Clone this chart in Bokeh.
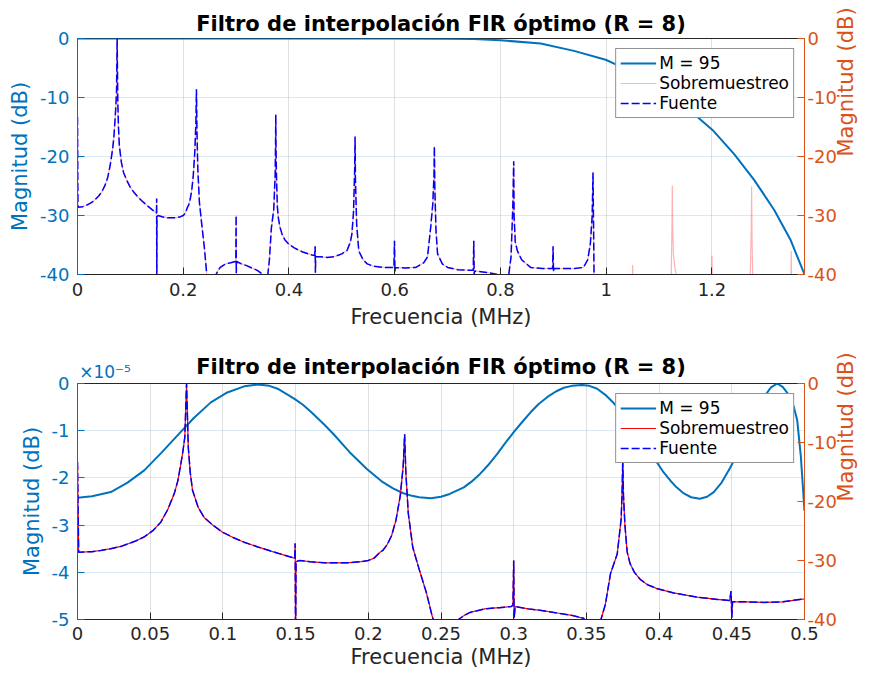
import math
from bokeh.plotting import figure
from bokeh.models import Range1d, LinearAxis, FixedTicker, CustomJSTickFormatter
from bokeh.layouts import column
from bokeh.embed import file_html
from bokeh.resources import INLINE

# ---------------- texts ----------------
TITLE = "Filtro de interpolación FIR óptimo (R = 8)"
X_LABEL = "Frecuencia (MHz)"
Y_LABEL = "Magnitud (dB)"
LEGEND_FILTER = "M = 95"
LEGEND_OVERSAMPLED = "Sobremuestreo"
LEGEND_SOURCE = "Fuente"
EXPONENT_TEXT = "×10⁻⁵"

# ---------------- ticks ----------------
top_x_ticks = [0, 0.2, 0.4, 0.6, 0.8, 1.0, 1.2]
bottom_x_ticks = [0, 0.05, 0.1, 0.15, 0.2, 0.25, 0.3, 0.35, 0.4, 0.45, 0.5]
db_ticks = [-40, -30, -20, -10, 0]
ripple_ticks = [-5e-5, -4e-5, -3e-5, -2e-5, -1e-5, 0]

# ---------------- filter response (M = 95), top panel, dB ----------------
filter_freq = [0.0, 0.5, 0.6, 0.7, 0.75, 0.8, 0.876, 0.939, 0.999, 1.016,
               1.06, 1.10, 1.135, 1.166, 1.201, 1.242, 1.280, 1.318, 1.349, 1.375]
filter_db = [0.0, 0.0, -0.01, -0.03, -0.1, -0.3, -0.85, -2.1, -3.6, -4.3,
             -6.0, -8.0, -10.3, -12.8, -15.5, -19.6, -24.0, -29.1, -34.2, -40.0]

# ---------------- filter passband ripple, bottom panel, dB ----------------
ripple_freq = [0.0000, 0.0100, 0.0229, 0.0344, 0.0459, 0.0573, 0.0688, 0.0800, 0.0917, 0.1030,
               0.1146, 0.1240, 0.1320, 0.1376, 0.1490, 0.1550, 0.1605, 0.1700, 0.1760, 0.1870,
               0.1990, 0.2100, 0.2170, 0.2237, 0.2300, 0.2350, 0.2430, 0.2500, 0.2560, 0.2657,
               0.2710, 0.2770, 0.2830, 0.2887, 0.2940, 0.3000, 0.3060, 0.3116, 0.3170, 0.3230,
               0.3290, 0.3345, 0.3400, 0.3470, 0.3520, 0.3574, 0.3630, 0.3689, 0.3740, 0.3780,
               0.3830, 0.3880, 0.3930, 0.3987, 0.4030, 0.4078, 0.4120, 0.4170, 0.4220, 0.4280,
               0.4330, 0.4376, 0.4430, 0.4490, 0.4540, 0.4580, 0.4620, 0.4660, 0.4700, 0.4732,
               0.4770, 0.4812, 0.4850, 0.4892, 0.4925, 0.4950, 0.4975, 0.5000]
ripple_db = [-2.42e-5, -2.39e-5, -2.30e-5, -2.10e-5, -1.84e-5, -1.48e-5, -1.10e-5, -0.73e-5, -0.40e-5, -0.19e-5,
             -0.06e-5, -0.02e-5, -0.05e-5, -0.11e-5, -0.32e-5, -0.45e-5, -0.60e-5, -0.88e-5, -1.07e-5, -1.45e-5,
             -1.81e-5, -2.09e-5, -2.22e-5, -2.32e-5, -2.38e-5, -2.41e-5, -2.43e-5, -2.40e-5, -2.34e-5, -2.20e-5,
             -2.08e-5, -1.91e-5, -1.71e-5, -1.49e-5, -1.27e-5, -1.03e-5, -0.81e-5, -0.61e-5, -0.44e-5, -0.29e-5,
             -0.17e-5, -0.09e-5, -0.05e-5, -0.03e-5, -0.05e-5, -0.11e-5, -0.24e-5, -0.42e-5, -0.60e-5, -0.78e-5,
             -1.00e-5, -1.22e-5, -1.45e-5, -1.68e-5, -1.88e-5, -2.06e-5, -2.20e-5, -2.33e-5, -2.41e-5, -2.44e-5,
             -2.40e-5, -2.30e-5, -2.10e-5, -1.78e-5, -1.48e-5, -1.24e-5, -0.98e-5, -0.72e-5, -0.44e-5, -0.24e-5,
             -0.08e-5, 0.0, -0.07e-5, -0.24e-5, -0.48e-5, -0.78e-5, -1.55e-5, -2.70e-5]

# ---------------- source spectrum (Fuente), dB ----------------
source_freq = [0.0000, 0.0008, 0.0100, 0.0160, 0.0229, 0.0300, 0.0400, 0.0459, 0.0520, 0.0573,
               0.0620, 0.0665, 0.0690, 0.0711, 0.0725, 0.0738, 0.0750, 0.0762, 0.0775, 0.0791,
               0.0830, 0.0871, 0.0930, 0.0997, 0.1070, 0.1146, 0.1240, 0.1330, 0.1410, 0.1479,
               0.1494, 0.1497, 0.1500, 0.1503, 0.1525, 0.1600, 0.1700, 0.1850, 0.1950, 0.2000,
               0.2040, 0.2080, 0.2100, 0.2130, 0.2160, 0.2190, 0.2220, 0.2240, 0.2250, 0.2258,
               0.2275, 0.2306, 0.2350, 0.2400, 0.2440, 0.2500, 0.2570, 0.2620, 0.2660, 0.2700,
               0.2750, 0.2800, 0.2900, 0.2985, 0.2995, 0.3000, 0.3003, 0.3010, 0.3100, 0.3200,
               0.3300, 0.3400, 0.3480, 0.3520, 0.3560, 0.3600, 0.3630, 0.3666, 0.3712, 0.3739,
               0.3746, 0.3750, 0.3755, 0.3765, 0.3780, 0.3800, 0.3830, 0.3870, 0.3920, 0.3990,
               0.4100, 0.4260, 0.4400, 0.4485, 0.4495, 0.4500, 0.4505, 0.4600, 0.4720, 0.4850,
               0.5000, 0.5100, 0.5160, 0.5190, 0.5220, 0.5243, 0.5250, 0.5257, 0.5280, 0.5320,
               0.5400, 0.5480, 0.5600, 0.5800, 0.5985, 0.5995, 0.6003, 0.6010, 0.6200, 0.6400,
               0.6550, 0.6620, 0.6680, 0.6720, 0.6743, 0.6750, 0.6757, 0.6780, 0.6810, 0.6900,
               0.7000, 0.7200, 0.7485, 0.7495, 0.7503, 0.7510, 0.7700, 0.7900, 0.8050, 0.8150,
               0.8200, 0.8235, 0.8250, 0.8257, 0.8280, 0.8320, 0.8400, 0.8570, 0.8800, 0.8985,
               0.8995, 0.9003, 0.9010, 0.9200, 0.9400, 0.9570, 0.9650, 0.9700, 0.9735, 0.9750,
               0.9770, 0.9800]
source_db = [-13.3, -28.6, -28.5, -28.3, -28.0, -27.6, -26.7, -26.0, -24.9, -23.5,
             -21.4, -18.7, -16.5, -13.6, -11.5, -9.1, 0.0, -10.8, -15.0, -18.1,
             -21.0, -22.7, -24.0, -25.2, -26.1, -26.9, -27.7, -28.4, -29.0, -29.5,
             -29.6, -27.1, -46.0, -30.2, -30.0, -30.2, -30.4, -30.4, -30.2, -30.0,
             -29.6, -28.6, -28.3, -27.3, -25.8, -23.2, -19.0, -14.0, -8.6, -15.0,
             -22.0, -27.8, -31.5, -35.5, -39.5, -44.0, -43.0, -40.0, -39.3, -38.8,
             -38.5, -38.2, -38.0, -37.8, -37.5, -30.0, -39.8, -37.8, -38.2, -38.5,
             -38.9, -39.3, -39.8, -41.0, -41.0, -40.0, -37.5, -32.2, -28.9, -23.0,
             -18.0, -12.9, -19.0, -24.0, -28.5, -30.5, -32.0, -33.2, -34.1, -34.8,
             -35.5, -36.2, -36.6, -36.8, -35.2, -39.7, -37.0, -37.0, -37.1, -37.0,
             -36.5, -35.9, -34.5, -33.1, -29.5, -22.0, -16.6, -24.0, -31.5, -36.0,
             -37.5, -38.2, -38.6, -38.8, -38.8, -34.3, -39.5, -38.8, -38.9, -38.8,
             -38.0, -37.0, -32.0, -28.0, -23.0, -18.3, -25.0, -32.5, -36.5, -38.2,
             -38.8, -39.2, -39.3, -34.3, -40.0, -39.4, -39.6, -39.9, -40.3, -40.5,
             -37.0, -28.0, -20.8, -30.0, -34.5, -36.0, -37.5, -38.8, -39.0, -39.0,
             -35.2, -39.6, -39.0, -39.0, -39.0, -38.8, -37.5, -34.8, -30.0, -22.7,
             -40.5, -46.0]

# ---------------- images in the oversampled spectrum (Sobremuestreo), dB ----------------
image_freq = [1.0480, 1.0495, 1.0500, 1.0505, 1.0520,
              1.1220, 1.1243, 1.1250, 1.1257, 1.1270, 1.1300, 1.1350, 1.1400,
              1.1980, 1.1995, 1.2000, 1.2005, 1.2020,
              1.2700, 1.2730, 1.2743, 1.2750, 1.2757, 1.2780,
              1.3470, 1.3495, 1.3500, 1.3505, 1.3520, 1.3750]
image_db = [-46.0, -41.0, -38.4, -41.0, -46.0,
            -46.0, -32.0, -24.9, -32.0, -36.5, -39.0, -41.0, -46.0,
            -46.0, -40.0, -36.8, -40.0, -46.0,
            -46.0, -38.0, -32.0, -25.1, -33.0, -46.0,
            -46.0, -40.0, -36.0, -40.0, -46.0, -46.0]

oversampled_freq = source_freq + image_freq
oversampled_db = source_db + image_db

# ---------------- styling ----------------
FONT = "DejaVu Sans"
BLUE_AX = "#0072BD"
ORANGE_AX = "#D95319"
DARK = "#262626"

x_fmt_code = "return Number(tick.toFixed(4)).toString();"


def style_axis(ax, color, standoff, label_standoff):
    ax.axis_line_color = color
    ax.axis_line_width = 1
    ax.major_tick_line_color = color
    ax.major_tick_in = 7
    ax.major_tick_out = 0
    ax.minor_tick_line_color = None
    ax.major_label_text_color = color
    ax.major_label_text_font = FONT
    ax.major_label_text_font_size = "18px"
    ax.major_label_standoff = standoff
    ax.axis_label_text_color = color
    ax.axis_label_text_font = FONT
    ax.axis_label_text_font_size = "21px"
    ax.axis_label_text_font_style = "normal"
    ax.axis_label_standoff = label_standoff


def build(height, border_top, border_bottom, x_end, x_ticks, left_range, left_ticks,
          left_formatter, filt_x, filt_y, over_color, over_alpha, over_width,
          title_standoff, xtick_standoff, xlabel_standoff):
    p = figure(width=872, height=height, output_backend="svg", toolbar_location=None,
               x_range=Range1d(0, x_end), y_range=left_range,
               min_border_left=77, min_border_right=68,
               min_border_top=border_top, min_border_bottom=border_bottom)
    p.extra_y_ranges = {"right": Range1d(-40, 0)}
    p.background_fill_color = "white"
    p.border_fill_color = "white"
    p.outline_line_color = DARK
    p.outline_line_width = 1

    p.title.text = TITLE
    p.title.align = "center"
    p.title.text_font = FONT
    p.title.text_font_size = "21px"
    p.title.text_font_style = "bold"
    p.title.text_color = "#000000"
    p.title.standoff = title_standoff

    xt = FixedTicker(ticks=x_ticks)
    yt = FixedTicker(ticks=left_ticks)
    p.xaxis.ticker = xt
    p.yaxis.ticker = yt
    p.xaxis.formatter = CustomJSTickFormatter(code=x_fmt_code)
    p.yaxis.formatter = left_formatter
    p.xaxis.axis_label = X_LABEL
    p.yaxis.axis_label = Y_LABEL
    style_axis(p.xaxis[0], DARK, xtick_standoff, xlabel_standoff)
    style_axis(p.yaxis[0], BLUE_AX, 8, 5)

    p.xgrid.ticker = xt
    p.ygrid.ticker = yt
    p.xgrid.grid_line_color = DARK
    p.xgrid.grid_line_alpha = 0.15
    p.ygrid.grid_line_color = BLUE_AX
    p.ygrid.grid_line_alpha = 0.15

    # right axis: ticks and tick labels
    right = LinearAxis(y_range_name="right", ticker=FixedTicker(ticks=db_ticks),
                       formatter=CustomJSTickFormatter(code="return Math.round(tick).toString();"))
    style_axis(right, ORANGE_AX, 3, 0)
    p.add_layout(right, "right")

    # right axis title, written bottom-to-top as in the reference
    right_title = LinearAxis(y_range_name="right", ticker=FixedTicker(ticks=[-20]),
                             formatter=CustomJSTickFormatter(code="return '%s';" % Y_LABEL))
    right_title.axis_line_color = None
    right_title.major_tick_line_color = None
    right_title.minor_tick_line_color = None
    right_title.major_label_orientation = math.pi / 2
    right_title.major_label_text_color = ORANGE_AX
    right_title.major_label_text_font = FONT
    right_title.major_label_text_font_size = "21px"
    right_title.major_label_standoff = 0
    p.add_layout(right_title, "right")

    p.line(filt_x, filt_y, line_color=BLUE_AX, line_width=2, legend_label=LEGEND_FILTER)
    p.line(oversampled_freq, oversampled_db, y_range_name="right", line_color=over_color,
           line_alpha=over_alpha, line_width=over_width, legend_label=LEGEND_OVERSAMPLED)
    p.line(source_freq, source_db, y_range_name="right", line_color="#0000FF", line_width=1.5,
           line_dash="8 3", legend_label=LEGEND_SOURCE)

    lg = p.legend[0]
    lg.location = "top_right"
    lg.margin = 10
    lg.padding = 4
    lg.spacing = 0
    lg.label_standoff = 3
    lg.glyph_width = 36
    lg.glyph_height = 20
    lg.label_height = 20
    lg.label_text_font = FONT
    lg.label_text_font_size = "17px"
    lg.label_text_color = "#000000"
    lg.border_line_color = DARK
    lg.border_line_width = 1
    lg.background_fill_color = "white"
    lg.background_fill_alpha = 1.0
    return p


p1 = build(337, 38, 63, 1.375, top_x_ticks, Range1d(-40, 0), db_ticks,
           CustomJSTickFormatter(code="return Math.round(tick).toString();"),
           filter_freq, filter_db, "#FF0000", 0.3, 1.2, 6, 8, 6)

p2 = build(336, 46, 54, 0.5, bottom_x_ticks, Range1d(-5e-5, 0), ripple_ticks,
           CustomJSTickFormatter(code="return Math.round(tick*1e5).toString();"),
           ripple_freq, ripple_db, "#FF0000", 1.0, 1.2, -40, 7, 2)

# exponent of the left axis (x10^-5), drawn above the top-left corner of the frame
exp_axis = LinearAxis(ticker=FixedTicker(ticks=[0.5 * 27.5 / 727]),
                      formatter=CustomJSTickFormatter(code="return '%s';" % EXPONENT_TEXT))
exp_axis.axis_line_color = None
exp_axis.major_tick_line_color = None
exp_axis.minor_tick_line_color = None
exp_axis.major_label_text_color = BLUE_AX
exp_axis.major_label_text_font = FONT
exp_axis.major_label_text_font_size = "17px"
exp_axis.major_label_standoff = -4
p2.add_layout(exp_axis, "above")

layout = column(p1, p2, spacing=0)
open("out.html", "w").write(file_html(layout, INLINE))
